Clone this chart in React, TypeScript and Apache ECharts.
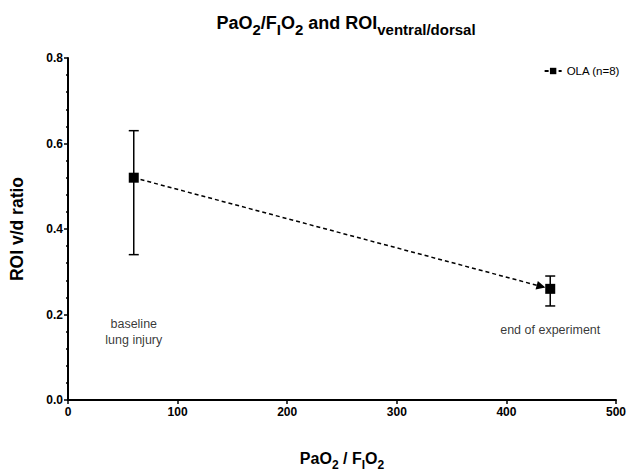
import React, { useEffect, useRef } from "react";
import * as echarts from "echarts";

const seriesName = "OLA (n=8)";
const xValues = [60, 440];
const yValues = [0.52, 0.26];
const errLow = [0.34, 0.22];
const errHigh = [0.63, 0.29];
const xTicks = [0, 100, 200, 300, 400, 500];
const yTicks = [0.0, 0.2, 0.4, 0.6, 0.8];
const annotations = [
  { text: "baseline\nlung injury", x: 60, y: 0.16 },
  { text: "end of experiment", x: 440, y: 0.163 },
];

const FONT = "'Liberation Sans', Arial, sans-serif";

export default function App() {
  const ref = useRef<HTMLDivElement>(null);
  useEffect(() => {
    if (!ref.current) return;
    const chart = echarts.init(ref.current, undefined, { renderer: "svg" });
    const points = xValues.map((x, i) => [x, yValues[i]]);
    const errData = xValues.map((x, i) => [x, errLow[i], errHigh[i]]);
    const arrowData = [[xValues[0], yValues[0], xValues[1], yValues[1]]];
    chart.setOption({
      animation: false,
      textStyle: { fontFamily: FONT },
      title: {
        text: "{t|PaO}{s|2}{t|/F}{s|I}{t|O}{s|2}{t| and ROI}{s|ventral/dorsal}",
        left: 341,
        top: 5,
        textAlign: "center",
        textStyle: {
          rich: {
            t: { fontSize: 18, fontWeight: "bold", color: "#000", fontFamily: FONT, verticalAlign: "bottom", lineHeight: 22 },
            s: { fontSize: 15, fontWeight: "bold", color: "#000", fontFamily: FONT, verticalAlign: "bottom", lineHeight: 18, padding: [0, 0, -5, 0] },
          },
        },
      },
      legend: {
        right: 4,
        top: 60,
        itemWidth: 17,
        itemHeight: 8,
        itemGap: 5,
        textStyle: { fontSize: 11.5, color: "#000", fontFamily: FONT },
        data: [seriesName],
      },
      grid: { left: 68, right: 11, top: 58, bottom: 62, containLabel: false },
      xAxis: {
        type: "value",
        min: xTicks[0],
        max: xTicks[xTicks.length - 1],
        interval: 100,
        name: "{t|PaO}{s|2}{t| / F}{s|I}{t|O}{s|2}",
        nameLocation: "middle",
        nameGap: 46,
        nameTextStyle: {
          rich: {
            t: { fontSize: 16, fontWeight: "bold", color: "#000", fontFamily: FONT, verticalAlign: "bottom", lineHeight: 20 },
            s: { fontSize: 12, fontWeight: "bold", color: "#000", fontFamily: FONT, verticalAlign: "bottom", lineHeight: 14, padding: [0, 0, -5, 0] },
          },
        },
        axisLine: { lineStyle: { color: "#000", width: 2 } },
        axisTick: { show: true, length: 4, lineStyle: { color: "#000", width: 1.5 } },
        axisLabel: { color: "#000", fontWeight: "bold", fontSize: 12, margin: 6, fontFamily: FONT },
        splitLine: { show: false },
      },
      yAxis: {
        type: "value",
        min: yTicks[0],
        max: yTicks[yTicks.length - 1],
        interval: 0.2,
        name: "ROI v/d ratio",
        nameLocation: "middle",
        nameGap: 42,
        nameTextStyle: { fontSize: 17.5, fontWeight: "bold", color: "#000", fontFamily: FONT },
        axisLine: { lineStyle: { color: "#000", width: 2 } },
        axisTick: { show: true, length: 4, lineStyle: { color: "#000", width: 1.5 } },
        minorTick: { show: true, splitNumber: 5, length: 2, lineStyle: { color: "#000", width: 1.5 } },
        axisLabel: {
          color: "#000",
          fontWeight: "bold",
          fontSize: 12,
          margin: 5,
          fontFamily: FONT,
          formatter: (v: number) => v.toFixed(1),
        },
        splitLine: { show: false },
      },
      series: [
        {
          type: "custom",
          name: "err",
          data: errData,
          z: 1,
          renderItem: (params: any, api: any) => {
            const x = api.value(0);
            const lo = api.coord([x, api.value(1)]);
            const hi = api.coord([x, api.value(2)]);
            const cap = 5;
            const st = { stroke: "#000", lineWidth: 1.5 };
            return {
              type: "group",
              children: [
                { type: "line", shape: { x1: lo[0], y1: lo[1], x2: hi[0], y2: hi[1] }, style: st },
                { type: "line", shape: { x1: lo[0] - cap, y1: lo[1], x2: lo[0] + cap, y2: lo[1] }, style: st },
                { type: "line", shape: { x1: hi[0] - cap, y1: hi[1], x2: hi[0] + cap, y2: hi[1] }, style: st },
              ],
            };
          },
        },
        {
          type: "line",
          name: seriesName,
          data: points,
          symbol: "rect",
          symbolSize: 10,
          z: 3,
          itemStyle: { color: "#000" },
          lineStyle: { color: "#000", width: 1.5, type: [4, 3] },
        },
        {
          type: "custom",
          name: "arrow",
          data: arrowData,
          z: 4,
          renderItem: (params: any, api: any) => {
            const p1 = api.coord([api.value(0), api.value(1)]);
            const p2 = api.coord([api.value(2), api.value(3)]);
            const dx = p2[0] - p1[0];
            const dy = p2[1] - p1[1];
            const len = Math.sqrt(dx * dx + dy * dy);
            const ux = dx / len;
            const uy = dy / len;
            const tipX = p2[0] - ux * 5;
            const tipY = p2[1] - uy * 5;
            const L = 9;
            const W = 4.5;
            const bx = tipX - ux * L;
            const by = tipY - uy * L;
            return {
              type: "polygon",
              shape: {
                points: [
                  [tipX, tipY],
                  [bx - uy * W, by + ux * W],
                  [bx + uy * W, by - ux * W],
                ],
              },
              style: { fill: "#000" },
            };
          },
        },
        {
          type: "scatter",
          name: "notes",
          data: annotations.map((a) => ({ value: [a.x, a.y], name: a.text })),
          symbolSize: 0,
          silent: true,
          itemStyle: { color: "#000" },
          label: {
            show: true,
            position: "inside",
            formatter: (p: any) => p.name,
            color: "#000",
            textBorderWidth: 0,
            fontSize: 12.5,
            lineHeight: 16,
            fontFamily: FONT,
          },
        },
      ],
    });
    return () => chart.dispose();
  }, []);
  return <div ref={ref} style={{ width: 629, height: 476, position: "absolute", left: 0, top: 0 }} />;
}
